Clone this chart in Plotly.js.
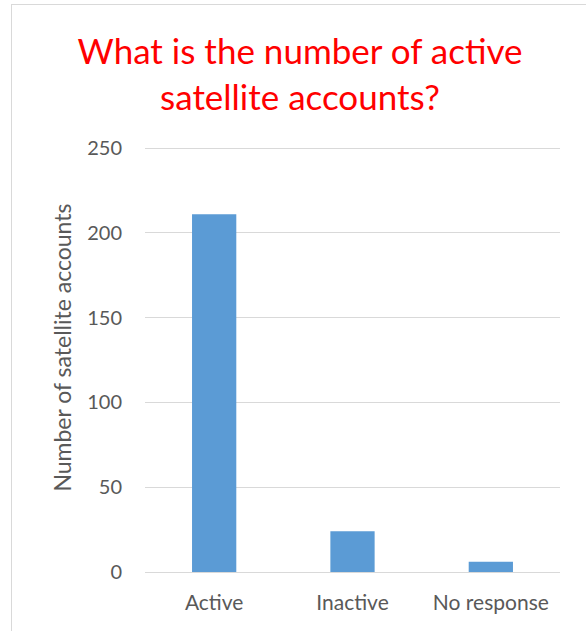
<!DOCTYPE html>
<html>
<head>
<meta charset="utf-8">
<script src="https://cdn.plot.ly/plotly-3.0.1.min.js"></script>
<style>
  html, body { margin: 0; padding: 0; background: #fff; }
  #wrap { position: relative; width: 586px; height: 631px; overflow: hidden; }
  #chart { width: 586px; height: 631px; }
  #frame { position: absolute; left: 11px; top: 4px; width: 700px; height: 700px;
           border-left: 1px solid #d9d9d9; border-top: 1px solid #d9d9d9;
           pointer-events: none; z-index: 10; }
</style>
</head>
<body>
<div id="wrap">
  <div id="chart"></div>
  <div id="frame"></div>
</div>
<script>
const categories = ['Active', 'Inactive', 'No response'];
const accounts = [211, 24, 6];
const yTicks = [0, 50, 100, 150, 200, 250];
const yTitle = 'Number of satellite accounts';

const FONT = 'Lato, "Open Sans", sans-serif';

const trace = {
  type: 'bar',
  x: categories,
  y: accounts,
  marker: { color: '#5b9bd5' },
  hoverinfo: 'x+y'
};

const layout = {
  width: 586,
  height: 631,
  margin: { l: 145, r: 26, t: 147, b: 59 },
  paper_bgcolor: '#ffffff',
  plot_bgcolor: '#ffffff',
  showlegend: false,
  bargap: 0.68,
  font: { family: FONT, color: '#595959', size: 20 },
  title: {
    text: 'What is the number of active<br>satellite accounts?',
    font: { family: FONT, color: '#ff0000', size: 35 },
    x: 0.512, xanchor: 'center', xref: 'container',
    y: 1 - 64 / 631, yanchor: 'middle', yref: 'container'
  },
  xaxis: {
    type: 'category',
    showgrid: false,
    showline: false,
    zeroline: false,
    ticks: '',
    ticklabelstandoff: 16,
    tickfont: { family: FONT, color: '#595959', size: 21 }
  },
  yaxis: {
    range: [0, 250.6],
    tickvals: yTicks,
    ticktext: yTicks.map(String),
    showgrid: true,
    gridcolor: '#d9d9d9',
    gridwidth: 1,
    zeroline: true,
    zerolinecolor: '#d9d9d9',
    zerolinewidth: 1,
    showline: false,
    ticks: '',
    ticklabelstandoff: 22,
    tickfont: { family: FONT, color: '#595959', size: 20 }
  },
  annotations: [{
    text: yTitle,
    xref: 'paper', yref: 'paper',
    x: -0.2, y: 0.528,
    xanchor: 'center', yanchor: 'middle',
    textangle: -90,
    showarrow: false,
    font: { family: FONT, color: '#595959', size: 23 }
  }]
};

Plotly.newPlot('chart', [trace], layout, { displayModeBar: false, staticPlot: true });
</script>
</body>
</html>
